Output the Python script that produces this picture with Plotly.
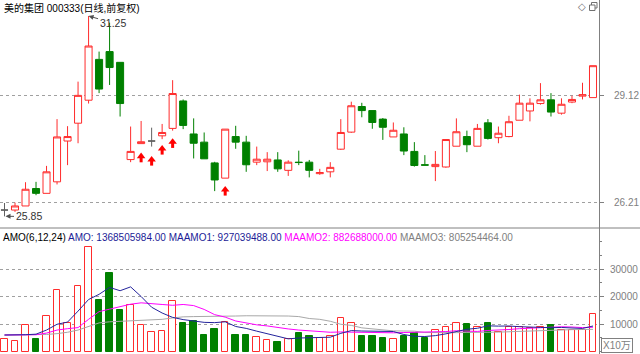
import plotly.graph_objects as go

# ---------------- data ----------------
title_text = "美的集团 000333(日线,前复权)"

opens = [26.02, 26.02, 26.13, 26.60, 26.47, 26.78, 27.88, 28.36, 28.98, 30.08,
         30.29, 30.00, 27.38, 27.81, 27.88, 28.02, 28.22, 28.96, 28.07, 27.85,
         27.29, 26.88, 28.00, 27.85, 27.31, 27.32, 27.37, 27.09, 27.31, 27.31,
         27.00, 27.05, 27.66, 28.12, 28.81, 28.70, 28.47, 27.99, 28.07, 27.60,
         27.24, 27.19, 27.18, 27.74, 28.00, 27.74, 28.37, 27.97, 28.00, 28.44,
         28.69, 28.89, 28.99, 28.63, 28.93, 29.09, 29.05]
highs = [26.21, 26.22, 26.77, 26.78, 27.21, 28.47, 28.28, 29.48, 31.25, 30.29,
         31.07, 30.00, 28.27, 28.42, 28.24, 28.34, 29.52, 29.00, 28.49, 28.11,
         27.32, 28.20, 28.29, 28.02, 27.73, 27.58, 27.58, 27.36, 27.62, 27.37,
         27.13, 27.31, 28.47, 28.94, 28.91, 28.70, 28.50, 28.38, 28.25, 27.85,
         27.50, 27.61, 27.92, 28.49, 28.16, 28.34, 28.47, 28.27, 28.56, 29.13,
         29.03, 29.44, 29.17, 29.03, 29.10, 29.45, 29.91]
lows = [25.85, 25.97, 26.13, 26.42, 26.47, 26.71, 27.23, 27.82, 28.89, 29.17,
        29.39, 28.54, 27.31, 27.81, 27.73, 27.93, 28.16, 28.20, 27.41, 27.40,
        26.53, 26.88, 27.67, 27.05, 27.23, 27.07, 27.05, 26.94, 27.23, 26.90,
        26.97, 26.90, 27.64, 28.10, 28.52, 28.21, 27.91, 27.99, 27.50, 27.19,
        27.23, 26.80, 27.16, 27.74, 27.58, 27.74, 27.92, 27.82, 27.98, 28.44,
        28.41, 28.86, 28.54, 28.59, 28.90, 29.00, 29.05]
closes = [26.02, 26.13, 26.58, 26.47, 27.05, 27.99, 28.00, 29.11, 30.44, 29.28,
          29.86, 28.89, 27.60, 27.86, 27.88, 28.11, 29.16, 28.30, 27.82, 27.40,
          26.83, 28.20, 27.85, 27.24, 27.39, 27.39, 27.13, 27.31, 27.30, 27.09,
          27.03, 27.17, 28.11, 28.83, 28.70, 28.38, 28.25, 28.17, 27.61, 27.22,
          27.23, 27.25, 27.92, 28.13, 27.78, 28.22, 27.95, 28.09, 28.40, 28.90,
          28.90, 28.99, 28.66, 28.87, 29.00, 29.13, 29.91]

# AMO (turnover) in units of 10万
amo = [4424, 3818, 9636, 4545, 12800, 22364, 10242, 23939, 38121, 18848,
       28424, 15212, 16909, 9636, 6970, 7576, 18485, 10242, 11091, 6000,
       8182, 10848, 6000, 6000, 5394, 4061, 3576, 4545, 6606, 5800,
       4800, 5800, 12300, 10500, 5500, 5800, 5000, 4500, 5800, 6600,
       5000, 7800, 8800, 10300, 10000, 8800, 10300, 7200, 9000, 8800,
       8500, 8800, 9600, 7800, 7800, 7800, 13685]
maamo1 = [6000, 6000, 6100, 6300, 7800, 9900, 10700, 14700, 18900, 20800,
          23300, 22100, 23500, 20000, 16100, 14000, 12400, 11600, 11000, 10600,
          10500, 10800, 9100, 8400, 7400, 6500, 5600, 4600, 4900, 5000,
          4900, 5200, 6600, 7600, 7450, 7450, 7480, 7270, 6180, 5530,
          5450, 5780, 6420, 7380, 8080, 8450, 9330, 9230, 9270, 9020,
          8770, 8770, 8650, 8750, 8550, 8380, 9270]
maamo2 = [6000, 6000, 6000, 6100, 6700, 7800, 8300, 8700, 11700, 14500,
          15400, 16300, 17200, 17700, 17500, 17100, 16800, 17100, 16700, 15300,
          13400, 12500, 11100, 10300, 9700, 9300, 8700, 8200, 7800, 7500,
          7200, 7000, 7100, 7000, 6900, 6850, 6800, 6800, 6900, 7000,
          6900, 7000, 7250, 7550, 7400, 7300, 7650, 7750, 8000, 8300,
          8500, 8650, 9000, 9000, 8900, 8700, 8827]
maamo3 = [6000, 6000, 6000, 6100, 6200, 6500, 7000, 7800, 9000, 10400,
          10800, 11000, 11100, 11200, 11400, 11700, 12200, 12600, 12700, 12700,
          12700, 12800, 12900, 13000, 13000, 13000, 13000, 12900, 12700, 12000,
          11700, 11000, 9900, 9500, 8600, 8200, 7700, 7500, 7450, 7400,
          6900, 6800, 6700, 6850, 6950, 6850, 7000, 7050, 7200, 7400,
          7550, 7700, 7800, 7900, 7950, 8000, 8053]

arrow_idx = [13, 14, 15, 16, 21]
arrow_price = [27.565, 27.476, 27.773, 27.953, 26.668]   # arrow tip prices

high_idx, high_val = 8, 31.25
low_idx, low_val = 0, 25.85

price_ticks = [26.21, 29.12]
vol_ticks = [10000, 20000, 30000]

amo_params = "AMO(6,12,24)"
amo_last = "1368505984.00"
maamo1_last = "927039488.00"
maamo2_last = "882688000.00"
maamo3_last = "805254464.00"
unit_label = "X10万"

# ---------------- styling ----------------
RED = "#ff2c2c"
GREEN = "#008000"
GRAYC = "#606060"
AXC = "#808080"
LATIN = "Liberation Sans, Arial, Noto Sans CJK SC, sans-serif"

n = len(opens)
xs = list(range(n))
flat = [i for i in xs if opens[i] == closes[i]]
normal = [i for i in xs if opens[i] != closes[i]]

W, H = 640, 354
PLOT_W = 599
SEP = 228  # px, panel separation
dom_split = 1 - SEP / H

p_top, p_bot = 31.680, 25.536
v_top, v_bot = 44909, -909
px_per_yuan = SEP / (p_top - p_bot)

fig = go.Figure()

fig.add_trace(go.Candlestick(
    x=[xs[i] for i in normal],
    open=[opens[i] for i in normal], high=[highs[i] for i in normal],
    low=[lows[i] for i in normal], close=[closes[i] for i in normal],
    increasing=dict(line=dict(color=RED, width=1), fillcolor="white"),
    decreasing=dict(line=dict(color=GREEN, width=1), fillcolor=GREEN),
    whiskerwidth=0, showlegend=False, hoverinfo="skip", yaxis="y"))
fig.add_trace(go.Candlestick(
    x=[xs[i] for i in flat],
    open=[opens[i] for i in flat], high=[highs[i] for i in flat],
    low=[lows[i] for i in flat], close=[closes[i] for i in flat],
    increasing=dict(line=dict(color=GRAYC, width=1), fillcolor=GRAYC),
    decreasing=dict(line=dict(color=GRAYC, width=1), fillcolor=GRAYC),
    whiskerwidth=0, showlegend=False, hoverinfo="skip", yaxis="y"))

# red up-arrows: head (triangle) + stem (short thick line)
head_off = 3.6 / px_per_yuan
stem_off = 6.8 / px_per_yuan
fig.add_trace(go.Scatter(
    x=arrow_idx, y=[p - stem_off for p in arrow_price], mode="markers", yaxis="y",
    marker=dict(symbol="line-ns", size=4, line=dict(color="#ff0000", width=3)),
    showlegend=False, hoverinfo="skip"))
fig.add_trace(go.Scatter(
    x=arrow_idx, y=[p - head_off for p in arrow_price], mode="markers", yaxis="y",
    marker=dict(symbol="triangle-up", size=7.4, color="#ff0000", line=dict(width=0)),
    showlegend=False, hoverinfo="skip"))

up = [closes[i] >= opens[i] for i in xs]
fig.add_trace(go.Bar(
    x=xs, y=amo, width=0.62, yaxis="y2",
    marker=dict(color=["white" if u else GREEN for u in up],
                line=dict(color=[RED if u else GREEN for u in up], width=1)),
    showlegend=False, hoverinfo="skip"))
for vals, col in [(maamo3, "#a8a8a8"), (maamo2, "#ff00ff"), (maamo1, "#24249c")]:
    fig.add_trace(go.Scatter(x=xs, y=vals, mode="lines", yaxis="y2",
                             line=dict(color=col, width=1),
                             showlegend=False, hoverinfo="skip"))

fig.update_layout(
    width=W, height=H, margin=dict(l=0, r=W - PLOT_W, t=0, b=0),
    paper_bgcolor="white", plot_bgcolor="white",
    boxgap=0.33, boxgroupgap=0, bargap=0,
    xaxis=dict(range=[-0.428, 56.57], showgrid=False, showticklabels=False,
               zeroline=False, showline=False, ticks="", anchor="y2",
               rangeslider=dict(visible=False)),
    yaxis=dict(domain=[dom_split, 1], range=[p_bot, p_top], side="right",
               tickvals=price_ticks, ticktext=[f"{v:.2f}" for v in price_ticks],
               showgrid=True, gridcolor="#a0a0a0", griddash="dot", gridwidth=1,
               ticks="outside", ticklen=4, tickcolor=AXC,
               showline=True, linecolor=AXC, linewidth=1, zeroline=False,
               tickfont=dict(family=LATIN, size=10, color=AXC),
               ticklabelstandoff=8, anchor="x"),
    yaxis2=dict(domain=[0, dom_split], range=[v_bot, v_top], side="right",
                tickvals=vol_ticks, ticktext=[str(v) for v in vol_ticks],
                showgrid=True, gridcolor="#a0a0a0", griddash="dot", gridwidth=1,
                ticks="outside", ticklen=4, tickcolor=AXC,
                minor=dict(dtick=5000, tick0=0, ticks="outside", ticklen=2,
                           tickcolor=AXC, showgrid=False),
                showline=True, linecolor=AXC, linewidth=1, zeroline=False,
                tickfont=dict(family=LATIN, size=10, color=AXC),
                ticklabelstandoff=4, anchor="x"),
    font=dict(family=LATIN, size=10, color="black"),
)

def px2paper(px, py):
    return px / PLOT_W, 1 - py / H

shapes = []
shapes.append(dict(type="line", xref="paper", yref="paper", x0=0, x1=W / PLOT_W,
                   y0=dom_split, y1=dom_split, line=dict(color=AXC, width=1)))
# small "restore window" icon at the top right
for (l, t, r, b), fill in [((591.5, 2.5, 597, 8), "white"), ((589.5, 5, 595, 10.5), "white")]:
    x0, y1 = px2paper(l, t)
    x1, y0 = px2paper(r, b)
    shapes.append(dict(type="rect", xref="paper", yref="paper", x0=x0, x1=x1,
                       y0=y0, y1=y1, line=dict(color="#707070", width=1),
                       fillcolor=fill))
fig.update_layout(shapes=shapes)

ann = []
ann.append(dict(xref="paper", yref="paper", x=2 / PLOT_W, y=1 - 8 / H,
                xanchor="left", yanchor="middle", showarrow=False,
                text=title_text, font=dict(family=LATIN, size=10, color="black")))
ann.append(dict(xref="paper", yref="paper", x=582 / PLOT_W, y=1 - 7 / H,
                xanchor="center", yanchor="middle", showarrow=False, text="◇",
                font=dict(family="DejaVu Sans", size=10, color="#707070")))
legend = (f"{amo_params} <span style='color:#1c1c96'>AMO: {amo_last}</span> "
          f"<span style='color:#1c1c96'>MAAMO1: {maamo1_last}</span> "
          f"<span style='color:#ff00ff'>MAAMO2: {maamo2_last}</span> "
          f"<span style='color:#808080'>MAAMO3: {maamo3_last}</span>")
ann.append(dict(xref="paper", yref="paper", x=1 / PLOT_W, y=1 - 237 / H,
                xanchor="left", yanchor="middle", showarrow=False, text=legend,
                font=dict(family=LATIN, size=10, color="black")))
ann.append(dict(xref="x", yref="y", x=high_idx, y=high_val, text=f"{high_val:.2f}",
                showarrow=True, ax=24, ay=7, arrowhead=2, arrowsize=1, arrowwidth=1,
                arrowcolor="#505050", standoff=0,
                font=dict(family=LATIN, size=10.5, color="#333333")))
ann.append(dict(xref="x", yref="y", x=low_idx, y=low_val, text=f"{low_val:.2f}",
                showarrow=True, ax=24, ay=0, arrowhead=2, arrowsize=1, arrowwidth=1,
                arrowcolor="#505050", standoff=1,
                font=dict(family=LATIN, size=10.5, color="#333333")))
ann.append(dict(xref="paper", yref="paper", x=601 / PLOT_W, y=1 - 345 / H,
                xanchor="left", yanchor="middle", showarrow=False, text=unit_label,
                bordercolor=AXC, borderwidth=1, borderpad=1,
                font=dict(family=LATIN, size=10, color=AXC)))
fig.update_layout(annotations=ann)

fig.write_html("out.html")
